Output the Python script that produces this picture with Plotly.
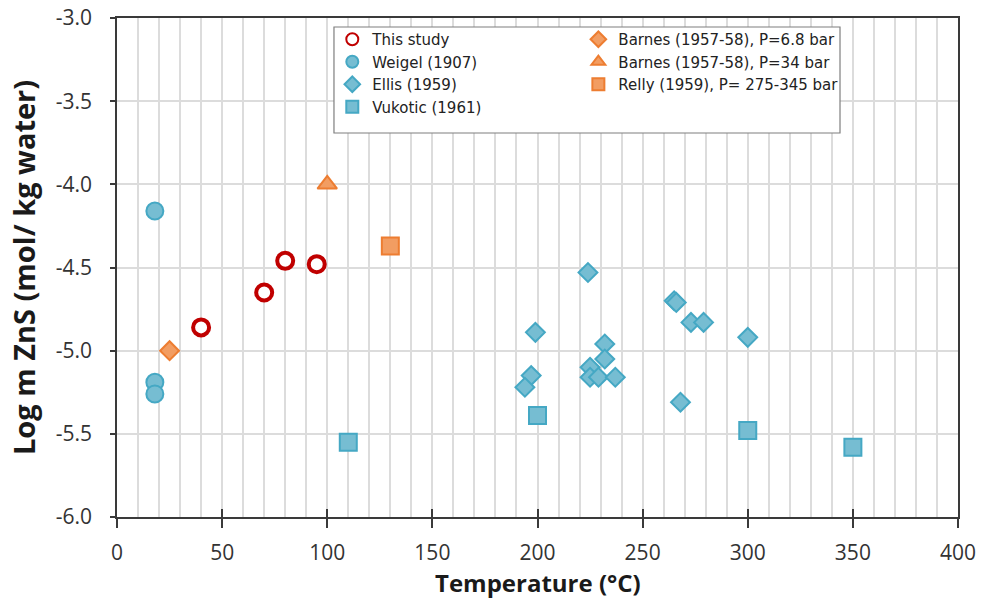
import plotly.graph_objects as go

# Solubility of ZnS: temperature (°C) vs log molality
this_study_t = [40, 70, 80, 95]
this_study_logm = [-4.86, -4.65, -4.46, -4.48]

weigel_t = [18, 18, 18]
weigel_logm = [-4.16, -5.19, -5.26]

ellis_t = [224, 199, 197, 194, 232, 232, 225, 225, 229, 237, 265, 266, 273, 279, 300, 268]
ellis_logm = [-4.53, -4.89, -5.15, -5.22, -4.96, -5.05, -5.10, -5.16, -5.16, -5.16,
              -4.70, -4.71, -4.83, -4.83, -4.92, -5.31]

vukotic_t = [110, 200, 300, 350]
vukotic_logm = [-5.55, -5.39, -5.48, -5.58]

barnes68_t = [25]
barnes68_logm = [-5.0]

barnes34_t = [100]
barnes34_logm = [-4.0]

relly_t = [130]
relly_logm = [-4.37]

# Axis ticks (hyphen-minus labels)
x_ticks = [0, 50, 100, 150, 200, 250, 300, 350, 400]
y_ticks = [-6.0, -5.5, -5.0, -4.5, -4.0, -3.5, -3.0]
y_tick_labels = ["-6.0", "-5.5", "-5.0", "-4.5", "-4.0", "-3.5", "-3.0"]

RED = "#C00000"
TEAL = "#45A8C4"
TEAL_FILL = "#76BDD2"
ORANGE = "#ED7D31"
ORANGE_FILL = "#F29D62"

fig = go.Figure()

# Left legend column: this study and the teal literature sets
fig.add_trace(go.Scatter(
    x=this_study_t, y=this_study_logm, mode="markers", name="This study", legend="legend",
    marker=dict(symbol="circle", size=16, color="white", line=dict(color=RED, width=4))))
fig.add_trace(go.Scatter(
    x=weigel_t, y=weigel_logm, mode="markers", name="Weigel (1907)", legend="legend",
    marker=dict(symbol="circle", size=17, color=TEAL_FILL, line=dict(color=TEAL, width=2))))
fig.add_trace(go.Scatter(
    x=ellis_t, y=ellis_logm, mode="markers", name="Ellis (1959)", legend="legend",
    marker=dict(symbol="diamond", size=14.5, color=TEAL_FILL, line=dict(color=TEAL, width=2))))
fig.add_trace(go.Scatter(
    x=vukotic_t, y=vukotic_logm, mode="markers", name="Vukotic (1961)", legend="legend",
    marker=dict(symbol="square", size=17, color=TEAL_FILL, line=dict(color=TEAL, width=2))))

# Right legend column: the orange sets
fig.add_trace(go.Scatter(
    x=barnes68_t, y=barnes68_logm, mode="markers", name="Barnes (1957-58), P=6.8 bar", legend="legend2",
    marker=dict(symbol="diamond", size=14.5, color=ORANGE_FILL, line=dict(color=ORANGE, width=2))))
fig.add_trace(go.Scatter(
    x=barnes34_t, y=barnes34_logm, mode="markers", name="Barnes (1957-58), P=34 bar", legend="legend2",
    marker=dict(symbol="triangle-up", size=17, color=ORANGE_FILL, line=dict(color=ORANGE, width=2))))
fig.add_trace(go.Scatter(
    x=relly_t, y=relly_logm, mode="markers", name="Relly (1959), P= 275-345 bar", legend="legend2",
    marker=dict(symbol="square", size=17, color=ORANGE_FILL, line=dict(color=ORANGE, width=2))))

FONT = "'Open Sans', sans-serif"
LEGEND_FONT = "'DejaVu Sans', sans-serif"
GRID = "#DCDCDC"
AXIS = "#3A3A3A"

legend_common = dict(
    orientation="v", yanchor="top", xanchor="left",
    bgcolor="rgba(0,0,0,0)", borderwidth=0,
    font=dict(family=LEGEND_FONT, size=15, color="#222222"),
    itemsizing="constant", tracegroupgap=0,
)

fig.update_layout(
    width=984, height=598,
    margin=dict(l=117, r=26, t=18, b=81, autoexpand=False),
    paper_bgcolor="white", plot_bgcolor="white",
    font=dict(family=FONT, size=18, color="#333333"),
    showlegend=True,
    legend=dict(x=0.256, y=0.99, **legend_common),
    legend2=dict(x=0.5486, y=0.99, **legend_common),
    # frame drawn round both legend columns
    shapes=[dict(type="rect", xref="paper", yref="paper",
                 x0=0.258, x1=0.8597, y0=0.7695, y1=0.982,
                 fillcolor="white", line=dict(color="#7F7F7F", width=1.2), layer="above")],
    # x-axis title set just under the tick labels
    annotations=[dict(text="<b>Temperature (°C)</b>", xref="paper", yref="paper",
                      x=0.5, y=0, xanchor="center", yanchor="top", yshift=-47,
                      showarrow=False, font=dict(family=FONT, size=24, color="#1A1A1A"))],
    xaxis=dict(
        range=[0, 400], tickvals=x_ticks, automargin=False,
        showgrid=True, gridcolor=GRID, gridwidth=1.5,
        minor=dict(dtick=10, showgrid=True, gridcolor=GRID, gridwidth=1.5),
        showline=True, linecolor=AXIS, linewidth=1.5, mirror=True,
        ticks="outside", ticklen=9, tickwidth=1.5, tickcolor=AXIS,
        ticklabelstandoff=7,
        zeroline=False,
        tickfont=dict(family=FONT, size=21, color="#333333"),
    ),
    xaxis2=dict(
        range=[0, 400], tickvals=x_ticks, overlaying="x", side="bottom", automargin=False,
        ticks="inside", ticklen=8, tickwidth=1.5, tickcolor=AXIS,
        showticklabels=False, showgrid=False, zeroline=False, showline=False,
    ),
    yaxis=dict(
        range=[-6.0, -3.0], tickvals=y_ticks, ticktext=y_tick_labels, automargin=False,
        showgrid=True, gridcolor=GRID, gridwidth=1.5,
        showline=True, linecolor=AXIS, linewidth=1.5, mirror=True,
        ticks="outside", ticklen=5, tickwidth=1.5, tickcolor=AXIS,
        ticklabelstandoff=14,
        zeroline=False,
        tickfont=dict(family=FONT, size=21, color="#333333"),
        title=dict(text="<b>Log m ZnS (mol/ kg water)</b>", font=dict(family=FONT, size=29, color="#1A1A1A"), standoff=12),
    ),
)

# Empty trace on the overlaid axis so its inside ticks are drawn
fig.add_trace(go.Scatter(x=[], y=[], xaxis="x2", showlegend=False, hoverinfo="skip"))

fig.write_html("out.html")
